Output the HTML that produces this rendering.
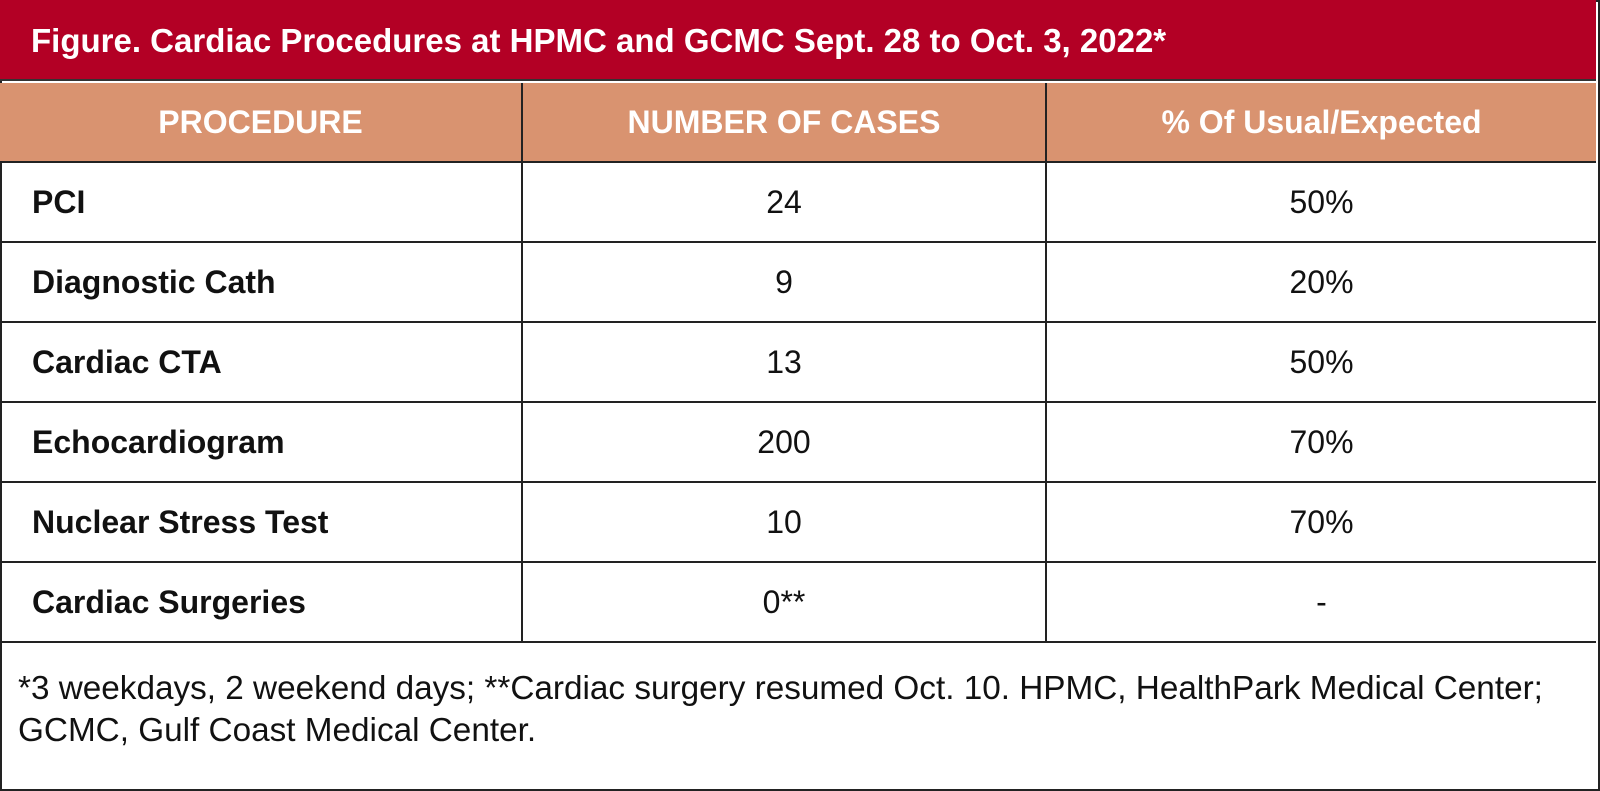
<!DOCTYPE html>
<html><head><style>
html,body{margin:0;padding:0;background:#fff;}
body{width:1600px;height:791px;position:relative;overflow:hidden;font-family:"Liberation Sans",sans-serif;}
.box{position:absolute;left:0;top:0;width:1596px;height:787px;border:2px solid #222;}
.title{position:absolute;left:0;top:0;width:1596px;height:81px;background:#b30025;color:#fff;font-weight:bold;font-size:33px;line-height:81px;padding-left:31px;box-sizing:border-box;border-bottom:2px solid #333;}
table{position:absolute;left:0;top:83px;border-collapse:collapse;width:1596px;}
td,th{border:2px solid #222;height:78px;font-size:32px;padding:0;}
th{background:#d99370;color:#fff;font-weight:bold;}
tr>*:first-child{border-left:none;}
tr>*:last-child{border-right:none;}
tr:first-child>*{border-top:none;}
td:first-child{font-weight:bold;padding-left:32px;text-align:left;}
td{text-align:center;color:#111;}
.foot{position:absolute;left:18px;top:668px;font-size:33.3px;line-height:42px;color:#111;}
</style></head><body>
<div class="box"></div>
<div class="title">Figure. Cardiac Procedures at HPMC and GCMC Sept. 28 to Oct. 3, 2022*</div>
<table>
<colgroup><col style="width:522px"><col style="width:524px"><col style="width:550px"></colgroup>
<tr><th>PROCEDURE</th><th>NUMBER OF CASES</th><th>% Of Usual/Expected</th></tr>
<tr><td>PCI</td><td>24</td><td>50%</td></tr>
<tr><td>Diagnostic Cath</td><td>9</td><td>20%</td></tr>
<tr><td>Cardiac CTA</td><td>13</td><td>50%</td></tr>
<tr><td>Echocardiogram</td><td>200</td><td>70%</td></tr>
<tr><td>Nuclear Stress Test</td><td>10</td><td>70%</td></tr>
<tr><td>Cardiac Surgeries</td><td>0**</td><td>-</td></tr>
</table>
<div class="foot">*3 weekdays, 2 weekend days; **Cardiac surgery resumed Oct. 10. HPMC, HealthPark Medical Center;<br>GCMC, Gulf Coast Medical Center.</div>
</body></html>
